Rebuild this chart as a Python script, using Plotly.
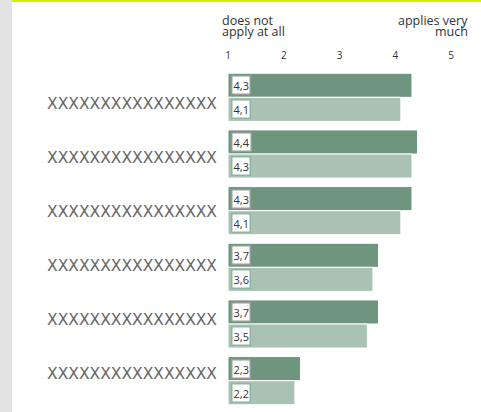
import plotly.graph_objects as go

# Survey items and mean scores (1 = does not apply at all, 5 = applies very much)
items = ["XXXXXXXXXXXXXXXX"] * 6
scores_a = [4.3, 4.4, 4.3, 3.7, 3.7, 2.3]
scores_b = [4.1, 4.3, 4.1, 3.6, 3.5, 2.2]
scale_ticks = [1, 2, 3, 4, 5]
low_label = ["does not", "apply at all"]
high_label = ["applies very", "much"]

DARK = "#6e957e"
LIGHT = "#a9c2b3"
BARGAP = 0.15

pos = list(range(len(items)))
base = 1


def fmt(v):
    return f"{v:.1f}".replace(".", ",")


fig = go.Figure()
for vals, col in ((scores_a, DARK), (scores_b, LIGHT)):
    fig.add_trace(go.Bar(
        y=pos, x=[v - base for v in vals], base=base, orientation="h",
        marker=dict(color=col, line=dict(color="#ffffff", width=1)),
        hoverinfo="skip", showlegend=False,
    ))

# item labels sit on their own axis so they can be spaced a little tighter
fig.add_trace(go.Scatter(x=[None], y=[None], yaxis="y2", showlegend=False,
                         hoverinfo="skip"))

half = (1 - BARGAP) / 4
for i in pos:
    for vals, off, bcol in ((scores_a, -half, "#9a9a9a"), (scores_b, half, "#8fb5a5")):
        fig.add_annotation(
            x=base, y=i + off, xref="x", yref="y", text=fmt(vals[i]),
            showarrow=False, xanchor="left", xshift=3,
            font=dict(family="Open Sans", size=11, color="#333333"),
            bgcolor="#ffffff", bordercolor=bcol, borderwidth=1.5, borderpad=1,
        )

# scale end descriptions, one line at a time for tight leading
head_font = dict(family="Open Sans", size=12.5, color="#333333")
for k, (lo, hi) in enumerate(zip(low_label, high_label)):
    shift = 49 - 11 * k
    fig.add_annotation(x=-0.03, y=1.0, xref="paper", yref="paper", yshift=shift,
                       text=lo, showarrow=False, xanchor="left", yanchor="middle",
                       font=head_font, borderpad=0)
    fig.add_annotation(x=1.08, y=1.0, xref="paper", yref="paper", yshift=shift,
                       text=hi, showarrow=False, xanchor="right", yanchor="middle",
                       font=head_font, borderpad=0)

fig.update_layout(
    width=481, height=412,
    margin=dict(l=228, r=30, t=69, b=3),
    paper_bgcolor="#ffffff", plot_bgcolor="#ffffff",
    barmode="group", bargap=BARGAP, bargroupgap=0,
    xaxis=dict(range=[1, 5], side="top", tickvals=scale_ticks,
               ticktext=[str(t) for t in scale_ticks], ticklabelstandoff=7,
               showgrid=False, zeroline=False, showline=False,
               tickfont=dict(family="Open Sans", size=10, color="#333333")),
    yaxis=dict(range=[len(items) - 0.5, -0.5], showticklabels=False,
               showgrid=False, zeroline=False, showline=False),
    yaxis2=dict(overlaying="y", side="left", tickvals=pos, ticktext=items,
                range=[len(items) - 1 + 0.648, -0.648],
                showgrid=False, zeroline=False, showline=False, ticklabelstandoff=10,
                tickfont=dict(family="DejaVu Sans", size=15.5, color="#666666")),
    shapes=[
        # page decoration: left gray strip and top accent line
        dict(type="rect", xref="paper", yref="paper", x0=-1.03, x1=-0.9686,
             y0=-0.02, y1=1.25, fillcolor="#e3e3e3", line_width=0, layer="below"),
        dict(type="rect", xref="paper", yref="paper", x0=-0.9686, x1=1.2,
             y0=1.197, y1=1.25, fillcolor="#d6f000", line_width=0),
    ],
)

fig.write_html("out.html")
